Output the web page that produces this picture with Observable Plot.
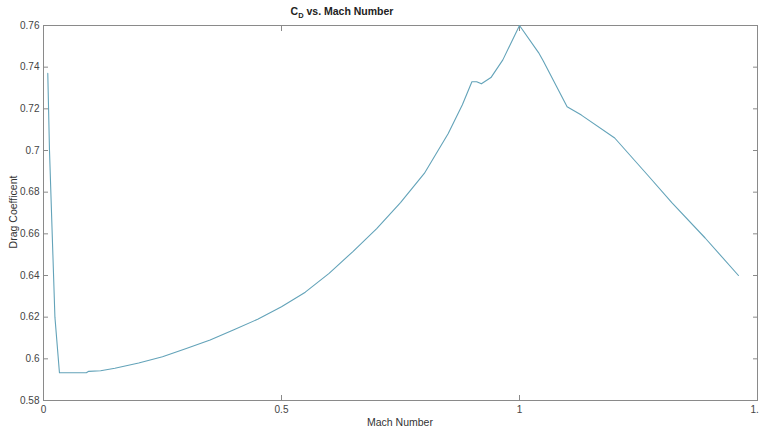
<!DOCTYPE html>
<html>
<head>
<meta charset="utf-8">
<script src="https://cdn.jsdelivr.net/npm/d3@7"></script>
<script src="https://cdn.jsdelivr.net/npm/@observablehq/plot@0.6"></script>
<style>
  html, body { margin: 0; padding: 0; background: #fff; }
  #chart svg { display: block; font-family: "Liberation Sans", Arial, sans-serif; }
</style>
</head>
<body>
<div id="chart"></div>
<script>
// Mach number (x) and drag coefficient (y)
const mach = [0.009, 0.0126, 0.024, 0.0335, 0.06, 0.09, 0.095, 0.12, 0.15, 0.2, 0.25, 0.3, 0.35, 0.4, 0.45, 0.5, 0.55, 0.6, 0.65, 0.7, 0.75, 0.8, 0.85, 0.88, 0.9, 0.91, 0.92, 0.94, 0.965, 1.0, 1.04, 1.05, 1.1, 1.13, 1.2, 1.27, 1.32, 1.39, 1.46];
const cd   = [0.737, 0.70, 0.62, 0.5933, 0.5933, 0.5933, 0.5940, 0.5943, 0.5955, 0.598, 0.601, 0.605, 0.609, 0.614, 0.619, 0.625, 0.632, 0.641, 0.6515, 0.6625, 0.675, 0.689, 0.708, 0.722, 0.733, 0.733, 0.732, 0.735, 0.7435, 0.760, 0.747, 0.743, 0.721, 0.717, 0.706, 0.688, 0.675, 0.658, 0.640];
const xTicks = [0, 0.5, 1, 1.5];
const yTicks = [0.58, 0.6, 0.62, 0.64, 0.66, 0.68, 0.7, 0.72, 0.74, 0.76];
const titleMain = "C";
const titleSub = "D";
const titleRest = " vs. Mach Number";
const xLabel = "Mach Number";
const yLabel = "Drag Coefficent";

const data = mach.map((m, i) => ({mach: m, cd: cd[i]}));
const fmt = d => String(+d.toFixed(2));
const axisColor = "#8a8a8a";
const textColor = "#444";

const plot = Plot.plot({
  width: 759,
  height: 429,
  marginLeft: 43,
  marginRight: 2,
  marginTop: 25,
  marginBottom: 29,
  style: {background: "#fff", fontFamily: "Liberation Sans, Arial, sans-serif", fontSize: "10px", color: textColor},
  x: {domain: [0, 1.5], label: null},
  y: {domain: [0.58, 0.76], label: null},
  marks: [
    Plot.frame({stroke: axisColor, strokeWidth: 1}),
    Plot.axisX(xTicks, {anchor: "bottom", tickSize: -5, text: null, stroke: axisColor, label: null}),
    Plot.axisX(xTicks, {anchor: "top", tickSize: -5, text: null, stroke: axisColor, label: null}),
    Plot.axisX(xTicks, {anchor: "bottom", tickSize: 0, tickPadding: 5, tickFormat: fmt, fill: textColor, label: null, fontSize: 10}),
    Plot.axisY(yTicks, {anchor: "left", tickSize: -5, text: null, stroke: axisColor, label: null}),
    Plot.axisY(yTicks, {anchor: "right", tickSize: -5, text: null, stroke: axisColor, label: null}),
    Plot.axisY(yTicks, {anchor: "left", tickSize: 0, tickPadding: 4, tickFormat: fmt, fill: textColor, label: null, fontSize: 10}),
    Plot.line(data, {x: "mach", y: "cd", stroke: "#63a3b9", strokeWidth: 1.1})
  ]
});

const svg = d3.select(plot);
// title
const t = svg.append("text")
  .attr("x", 342).attr("y", 15)
  .attr("font-family", "Liberation Sans, Arial, sans-serif")
  .attr("font-size", 10.5).attr("font-weight", "bold").attr("fill", "#222");
t.append("tspan").text(titleMain);
t.append("tspan").attr("font-size", 7.5).attr("dy", 3).text(titleSub);
t.append("tspan").attr("dy", -3).text(titleRest);
// axis labels
svg.append("text")
  .attr("x", 400).attr("y", 426).attr("text-anchor", "middle")
  .attr("font-family", "Liberation Sans, Arial, sans-serif")
  .attr("font-size", 10.5).attr("fill", "#333").text(xLabel);
svg.append("text")
  .attr("transform", "translate(17,212) rotate(-90)").attr("text-anchor", "middle")
  .attr("font-family", "Liberation Sans, Arial, sans-serif")
  .attr("font-size", 10.5).attr("fill", "#333").text(yLabel);

document.getElementById("chart").appendChild(plot);
</script>
</body>
</html>
